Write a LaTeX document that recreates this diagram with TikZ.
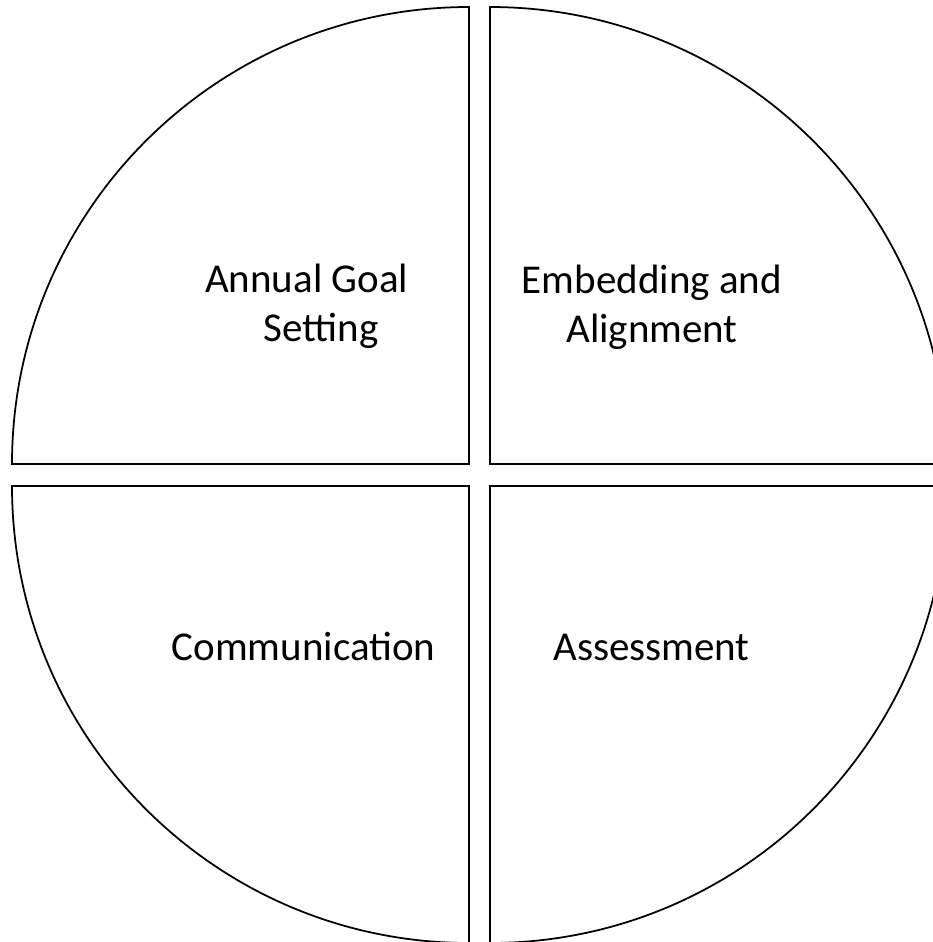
\documentclass[tikz,border=0pt]{standalone}
\usepackage{fontspec}
\setmainfont{Carlito}
\usepackage{tikz}

\begin{document}
\begin{tikzpicture}[x=0.03cm,y=-0.03cm,
    quarter/.style={draw,line width=1.5pt},
    lbl/.style={font=\fontsize{35}{41}\selectfont,align=center,inner sep=0pt,anchor=base}]
    \useasboundingbox (0,0) rectangle (933,942);
    \clip (0,0) rectangle (933,942);
    \draw[quarter] (469,464) -- ++(-457,0) arc[start angle=180,end angle=270,radius=457] -- cycle;
    \draw[quarter] (490,464) -- ++(0,-457) arc[start angle=270,end angle=360,radius=457] -- cycle;
    \draw[quarter] (469,486) -- ++(-457,0) arc[start angle=180,end angle=90,radius=457] -- cycle;
    \draw[quarter] (490,486) -- ++(457,0) arc[start angle=0,end angle=90,radius=457] -- cycle;
    \node[lbl] (goal) at (321,341) {Annual Goal\hspace*{0.7em}\\Setting};
    \node[lbl] (embed) at (652,342) {Embedding and\\Alignment};
    \node[lbl] (comm) at (303.5,660) {Communication};
    \node[lbl] (assess) at (651.5,660) {Assessment};
  \end{tikzpicture}
\end{document}
